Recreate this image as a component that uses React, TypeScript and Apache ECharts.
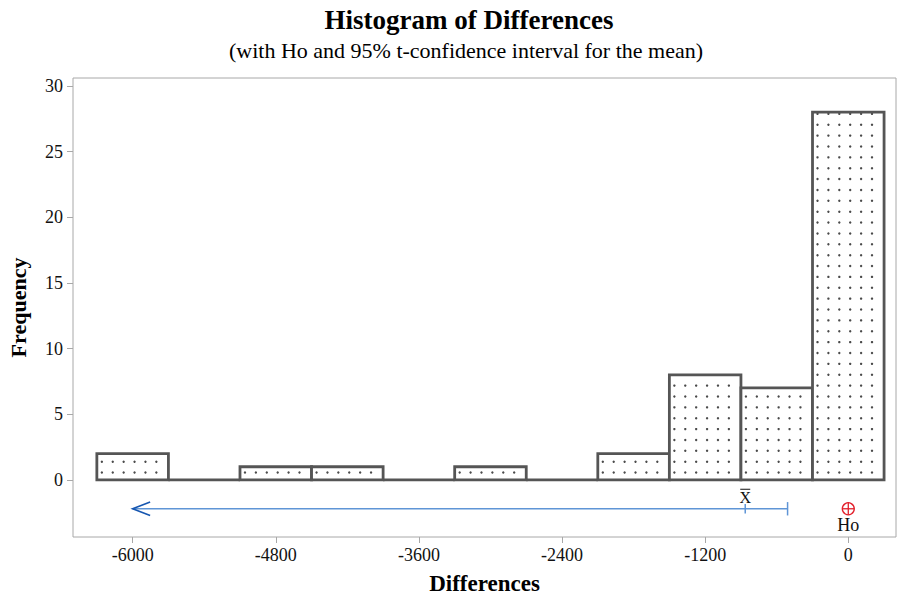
import React, { useEffect, useRef } from "react";
import * as echarts from "echarts";

// ---- data ----
const binCenters = [-6000, -5400, -4800, -4200, -3600, -3000, -2400, -1800, -1200, -600, 0];
const frequencies = [2, 0, 1, 1, 0, 1, 0, 2, 8, 7, 28];
const binWidth = 600;
const xTicks = [-6000, -4800, -3600, -2400, -1200, 0];
const yTicks = [0, 5, 10, 15, 20, 25, 30];
// one-sided 95% t-confidence interval (upper bound only), mean and Ho
const ciLowerArrow = -6000;
const ciUpper = -509;
const sampleMean = -864;
const hoValue = 0;
const ciLevelY = -2.2;

const FONT = "'Liberation Serif', 'Times New Roman', serif";

export default function App() {
  const ref = useRef<HTMLDivElement>(null);
  useEffect(() => {
    if (!ref.current) return;
    const chart = echarts.init(ref.current, null, { renderer: "svg" });

    const barData = binCenters.map((c, i) => [c - binWidth / 2, c + binWidth / 2, frequencies[i]]);

    const option: any = {
      animation: false,
      backgroundColor: "#ffffff",
      graphic: [
        {
          type: "text",
          x: 469,
          y: 20,
          style: {
            text: "Histogram of Differences",
            fontFamily: FONT,
            fontWeight: "bold",
            fontSize: 27,
            fill: "#000",
            align: "center",
            verticalAlign: "middle",
          },
        },
        {
          type: "text",
          x: 466,
          y: 50,
          style: {
            text: "(with Ho and 95% t-confidence interval for the mean)",
            fontFamily: FONT,
            fontSize: 22,
            fill: "#000",
            align: "center",
            verticalAlign: "middle",
          },
        },
      ],
      grid: {
        left: 73,
        top: 78,
        right: 1,
        bottom: 60,
        show: true,
        borderColor: "#a8a8a8",
        borderWidth: 1,
        outerBoundsMode: "none",
        containLabel: false,
      },
      xAxis: {
        type: "value",
        min: -6500,
        max: 400,
        name: "Differences",
        nameLocation: "middle",
        nameGap: 35,
        nameTextStyle: { fontFamily: FONT, fontWeight: "bold", fontSize: 23, color: "#000" },
        axisLine: { show: false, onZero: false },
        splitLine: { show: false },
        axisTick: { show: true, length: 6, customValues: xTicks, lineStyle: { color: "#a8a8a8" } },
        axisLabel: {
          customValues: xTicks,
          formatter: (v: number) => String(v),
          fontFamily: FONT,
          fontSize: 18,
          color: "#111",
          margin: 9,
        },
      },
      yAxis: {
        type: "value",
        min: -4.35,
        max: 30.6,
        name: "Frequency",
        nameLocation: "middle",
        nameGap: 44,
        nameTextStyle: { fontFamily: FONT, fontWeight: "bold", fontSize: 22, color: "#000" },
        axisLine: { show: false, onZero: false },
        splitLine: { show: false },
        axisTick: { show: true, length: 6, customValues: yTicks, lineStyle: { color: "#a8a8a8" } },
        axisLabel: {
          customValues: yTicks,
          formatter: (v: number) => String(v),
          fontFamily: FONT,
          fontSize: 18,
          color: "#111",
          margin: 10,
        },
      },
      series: [
        {
          type: "custom",
          coordinateSystem: "cartesian2d",
          encode: { x: [0, 1], y: 2 },
          clip: false,
          data: barData,
          renderItem: (params: any, api: any) => {
            const lo = api.value(0);
            const hi = api.value(1);
            const v = api.value(2);
            const p0 = api.coord([lo, v]);
            const p1 = api.coord([hi, 0]);
            const x = p0[0];
            const y = p0[1];
            const w = p1[0] - p0[0];
            const h = p1[1] - p0[1];
            const children: any[] = [];
            children.push({
              type: "rect",
              shape: { x, y, width: w, height: h },
              style: { fill: "#ffffff", stroke: "none" },
            });
            if (h > 4) {
              for (let yy = p1[1] - 7.3; yy > y + 1; yy -= 10.87) {
                for (let xx = x + 5; xx < x + w - 2; xx += 10.9) {
                  children.push({
                    type: "circle",
                    shape: { cx: xx, cy: yy, r: 1.2 },
                    style: { fill: "#4a4a4a" },
                    silent: true,
                  });
                }
              }
            }
            children.push({
              type: "rect",
              shape: { x, y, width: w, height: h },
              style: { fill: "none", stroke: "#555555", lineWidth: 2.8 },
            });
            return { type: "group", children };
          },
          z: 2,
        },
        {
          type: "custom",
          coordinateSystem: "cartesian2d",
          encode: { x: [0, 1, 2, 3], y: 4 },
          clip: false,
          data: [[ciLowerArrow, ciUpper, sampleMean, hoValue, ciLevelY]],
          renderItem: (params: any, api: any) => {
            const yv = api.value(4);
            const a = api.coord([api.value(0), yv]);
            const b = api.coord([api.value(1), yv]);
            const m = api.coord([api.value(2), yv]);
            const ho = api.coord([api.value(3), yv]);
            const blue = "#5f95d6";
            const dark = "#1656b0";
            const red = "#e2202c";
            return {
              type: "group",
              children: [
                { type: "line", shape: { x1: a[0], y1: a[1], x2: b[0], y2: b[1] }, style: { stroke: blue, lineWidth: 1.5 } },
                { type: "line", shape: { x1: b[0], y1: b[1] - 6.7, x2: b[0], y2: b[1] + 6.7 }, style: { stroke: blue, lineWidth: 1.5 } },
                { type: "line", shape: { x1: m[0], y1: m[1] - 4.7, x2: m[0], y2: m[1] + 4.7 }, style: { stroke: blue, lineWidth: 1.5 } },
                {
                  type: "polyline",
                  shape: { points: [[a[0] + 17.5, a[1] - 6.7], [a[0], a[1]], [a[0] + 17.5, a[1] + 6.7]] },
                  style: { stroke: dark, lineWidth: 1.6, fill: "none" },
                },
                {
                  type: "text",
                  x: m[0],
                  y: m[1] - 3.5,
                  style: { text: "X", fontFamily: FONT, fontSize: 16, fill: "#111", align: "center", verticalAlign: "bottom" },
                },
                { type: "line", shape: { x1: m[0] - 5, y1: m[1] - 19.5, x2: m[0] + 5, y2: m[1] - 19.5 }, style: { stroke: "#111", lineWidth: 1 } },
                { type: "circle", shape: { cx: ho[0], cy: ho[1], r: 6 }, style: { fill: "none", stroke: red, lineWidth: 1.3 } },
                { type: "line", shape: { x1: ho[0] - 6, y1: ho[1], x2: ho[0] + 6, y2: ho[1] }, style: { stroke: red, lineWidth: 1.3 } },
                { type: "line", shape: { x1: ho[0], y1: ho[1] - 6, x2: ho[0], y2: ho[1] + 6 }, style: { stroke: red, lineWidth: 1.3 } },
                {
                  type: "text",
                  x: ho[0],
                  y: ho[1] + 7,
                  style: { text: "Ho", fontFamily: FONT, fontSize: 18, fill: "#111", align: "center", verticalAlign: "top" },
                },
              ],
            };
          },
          z: 3,
        },
      ],
    };
    chart.setOption(option);
    return () => chart.dispose();
  }, []);
  return (
    <div
      ref={ref}
      style={{ position: "fixed", left: 0, top: 0, width: 897, height: 597, background: "#fff" }}
    />
  );
}
